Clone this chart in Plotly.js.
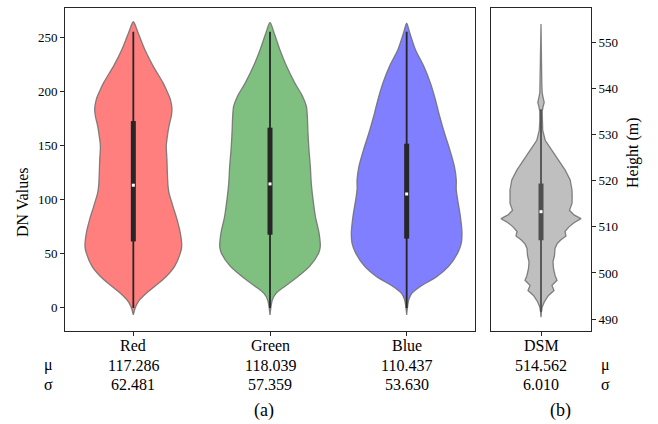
<!DOCTYPE html>
<html>
<head>
<meta charset="utf-8">
<script src="https://cdn.plot.ly/plotly-3.0.1.min.js"></script>
<style>html,body{margin:0;padding:0;background:#fff;}#chart{width:658px;height:424px;}</style>
</head>
<body>
<div id="chart"></div>
<script>
// ---- Data ----
const bandNames = ["Red", "Green", "Blue"];
const bandMeans = ["117.286", "118.039", "110.437"];
const bandStds  = ["62.481", "57.359", "53.630"];
const dsmName = "DSM";
const dsmMean = "514.562";
const dsmStd  = "6.010";

// violin density profiles: value levels and half-widths (category units)
const redY = [264.2, 254.3, 238.9, 223.5, 208.0, 200.3, 192.6, 183.3, 177.2, 167.9, 155.6, 149.4, 137.0, 124.7, 112.4, 106.2, 93.8, 81.5, 69.1, 56.8, 50.6, 38.3, 29.0, 19.8, 13.6, 7.4, 1.2, -6.5];
const redW = [0, 0.034, 0.083, 0.144, 0.217, 0.246, 0.271, 0.283, 0.278, 0.261, 0.246, 0.241, 0.246, 0.249, 0.254, 0.261, 0.290, 0.320, 0.344, 0.354, 0.344, 0.302, 0.241, 0.156, 0.095, 0.046, 0.017, 0];

const greenY = [263.6, 254.3, 238.9, 223.5, 208.0, 195.7, 186.4, 177.2, 161.7, 146.3, 130.9, 115.4, 100.0, 84.6, 69.1, 56.8, 50.6, 38.3, 29.0, 19.8, 13.6, 7.4, -6.5];
const greenW = [0, 0.029, 0.071, 0.120, 0.180, 0.237, 0.266, 0.273, 0.278, 0.285, 0.295, 0.302, 0.315, 0.332, 0.359, 0.368, 0.356, 0.290, 0.205, 0.107, 0.046, 0.017, 0];

const blueY = [263.0, 254.3, 238.9, 223.5, 208.0, 192.6, 177.2, 161.7, 146.3, 130.9, 118.5, 109.3, 100.0, 84.6, 69.1, 59.9, 50.6, 38.3, 29.0, 19.8, 13.6, 7.4, -6.5];
const blueW = [0, 0.022, 0.063, 0.124, 0.173, 0.210, 0.241, 0.276, 0.315, 0.349, 0.363, 0.363, 0.373, 0.393, 0.405, 0.400, 0.373, 0.307, 0.222, 0.100, 0.039, 0.015, 0];

const dsmY = [554.0, 550.0, 545.0, 541.0, 539.0, 538.0, 537.0, 536.0, 535.0, 533.0, 531.0, 528.8, 526.7, 524.5, 522.3, 520.2, 518.0, 516.5, 515.1, 513.6, 512.6, 511.8, 510.9, 510.0, 509.0, 508.0, 507.2, 506.3, 505.3, 503.8, 502.4, 501.0, 499.5, 498.4, 497.3, 496.2, 495.1, 493.7, 492.6, 491.5, 490.4];
const dsmW = [0, 0.004, 0.006, 0.008, 0.012, 0.022, 0.032, 0.02, 0.012, 0.012, 0.017, 0.042, 0.103, 0.175, 0.242, 0.292, 0.310, 0.312, 0.310, 0.285, 0.330, 0.400, 0.330, 0.280, 0.240, 0.250, 0.200, 0.160, 0.140, 0.135, 0.120, 0.125, 0.140, 0.160, 0.110, 0.130, 0.075, 0.033, 0.012, 0.004, 0];

// box statistics: [q1, median, q3, whiskerLow, whiskerHigh]
const redBox   = [61.4, 113.3, 172.5, 0, 255];
const greenBox = [67.6, 114.5, 166.4, 0, 255];
const blueBox  = [64.0, 105.2, 151.6, 0, 255];
const dsmBox   = [507.1, 513.3, 519.4, 491.5, 535.5];

const leftTicks = [0, 50, 100, 150, 200, 250];
const rightTicks = [490, 500, 510, 520, 530, 540, 550];

// ---- Build traces ----
const FONT = "Liberation Serif, Times New Roman, serif";
function violin(center, ys, ws, fill, xa, ya, smooth) {
  const x = [], y = [];
  for (let i = 0; i < ys.length; i++) { x.push(center - ws[i]); y.push(ys[i]); }
  for (let i = ys.length - 1; i >= 0; i--) { x.push(center + ws[i]); y.push(ys[i]); }
  return {type: "scatter", mode: "lines", x: x, y: y, xaxis: xa, yaxis: ya,
    fill: "toself", fillcolor: fill,
    line: {color: "rgba(110,110,110,0.85)", width: 1.3, shape: smooth ? "spline" : "linear", smoothing: 0.8},
    hoverinfo: "skip", showlegend: false};
}
function box(center, b, xa, ya, col) {
  return [
    {type: "scatter", mode: "lines", x: [center, center], y: [b[3], b[4]], xaxis: xa, yaxis: ya,
      line: {color: col, width: 1.8}, showlegend: false, hoverinfo: "skip"},
    {type: "scatter", mode: "lines", x: [center, center], y: [b[0], b[2]], xaxis: xa, yaxis: ya,
      line: {color: col, width: 5}, showlegend: false, hoverinfo: "skip"},
    {type: "scatter", mode: "markers", x: [center], y: [b[1]], xaxis: xa, yaxis: ya,
      marker: {color: "#ffffff", size: 3, symbol: "square"}, showlegend: false, hoverinfo: "skip"}
  ];
}

const traces = [
  violin(0, redY, redW, "rgb(255,127,127)", "x", "y", true),
  violin(1, greenY, greenW, "rgb(127,191,127)", "x", "y", true),
  violin(2, blueY, blueW, "rgb(127,127,255)", "x", "y", true),
  violin(0, dsmY, dsmW, "rgb(191,191,191)", "x2", "y2", false),
  ...box(0, redBox, "x", "y", "#262626"),
  ...box(1, greenBox, "x", "y", "#262626"),
  ...box(2, blueBox, "x", "y", "#262626"),
  ...box(0, dsmBox, "x2", "y2", "#4f4f4f")
];

// ---- Annotations ----
const ann = [];
const statFont = {family: FONT, size: 16, color: "#000"};
const rowCat = 1 - 345/424, rowMu = 1 - 365/424, rowSd = 1 - 384/424;
bandNames.forEach((n, i) => {
  ann.push({xref: "x", yref: "paper", x: i, y: rowCat, text: n, showarrow: false, font: statFont, xanchor: "center", yanchor: "middle"});
  ann.push({xref: "x", yref: "paper", x: i, y: rowMu, text: bandMeans[i], showarrow: false, font: statFont, xanchor: "center", yanchor: "middle"});
  ann.push({xref: "x", yref: "paper", x: i, y: rowSd, text: bandStds[i], showarrow: false, font: statFont, xanchor: "center", yanchor: "middle"});
});
ann.push({xref: "x2", yref: "paper", x: 0, y: rowCat, text: dsmName, showarrow: false, font: statFont, xanchor: "center", yanchor: "middle"});
ann.push({xref: "x2", yref: "paper", x: 0, y: rowMu, text: dsmMean, showarrow: false, font: statFont, xanchor: "center", yanchor: "middle"});
ann.push({xref: "x2", yref: "paper", x: 0, y: rowSd, text: dsmStd, showarrow: false, font: statFont, xanchor: "center", yanchor: "middle"});
[48/658, 605/658].forEach(px => {
  ann.push({xref: "paper", yref: "paper", x: px, y: rowMu, text: "μ", showarrow: false, font: statFont, xanchor: "center", yanchor: "middle"});
  ann.push({xref: "paper", yref: "paper", x: px, y: rowSd, text: "σ", showarrow: false, font: statFont, xanchor: "center", yanchor: "middle"});
});
ann.push({xref: "paper", yref: "paper", x: 264/658, y: 1 - 410/424, text: "(a)", showarrow: false, font: {family: FONT, size: 18, color: "#000"}, xanchor: "center", yanchor: "middle"});
ann.push({xref: "paper", yref: "paper", x: 560/658, y: 1 - 410/424, text: "(b)", showarrow: false, font: {family: FONT, size: 18, color: "#000"}, xanchor: "center", yanchor: "middle"});
ann.push({xref: "paper", yref: "paper", x: 22/658, y: 1 - 203/424, text: "DN Values", textangle: -90, showarrow: false, font: {family: FONT, size: 16, color: "#000"}, xanchor: "center", yanchor: "middle"});
ann.push({xref: "paper", yref: "paper", x: 633/658, y: 1 - 153/424, text: "Height (m)", textangle: -90, showarrow: false, font: {family: FONT, size: 16, color: "#000"}, xanchor: "center", yanchor: "middle"});

const axCommon = {showline: true, mirror: true, linecolor: "#262626", linewidth: 1, showgrid: false, zeroline: false,
  ticks: "outside", ticklen: 4, tickwidth: 1, tickcolor: "#262626", tickfont: {family: FONT, size: 13, color: "#000"}};

const layout = {
  width: 658, height: 424,
  margin: {l: 0, r: 0, t: 0, b: 0},
  paper_bgcolor: "#fff", plot_bgcolor: "#fff",
  showlegend: false,
  xaxis: Object.assign({}, axCommon, {domain: [65/658, 475/658], range: [-0.5, 2.5], tickvals: [0, 1, 2], showticklabels: false, anchor: "y"}),
  yaxis: Object.assign({}, axCommon, {domain: [1 - 331/424, 1 - 8/424], range: [-21.3, 276.9], tickvals: leftTicks, anchor: "x"}),
  xaxis2: Object.assign({}, axCommon, {domain: [491/658, 591/658], range: [-0.5, 0.5], tickvals: [0], showticklabels: false, anchor: "y2"}),
  yaxis2: Object.assign({}, axCommon, {domain: [1 - 331/424, 1 - 8/424], range: [487.4, 557.5], tickvals: rightTicks, side: "right", anchor: "x2"}),
  annotations: ann
};

Plotly.newPlot("chart", traces, layout, {staticPlot: true, displayModeBar: false});
</script>
</body>
</html>
